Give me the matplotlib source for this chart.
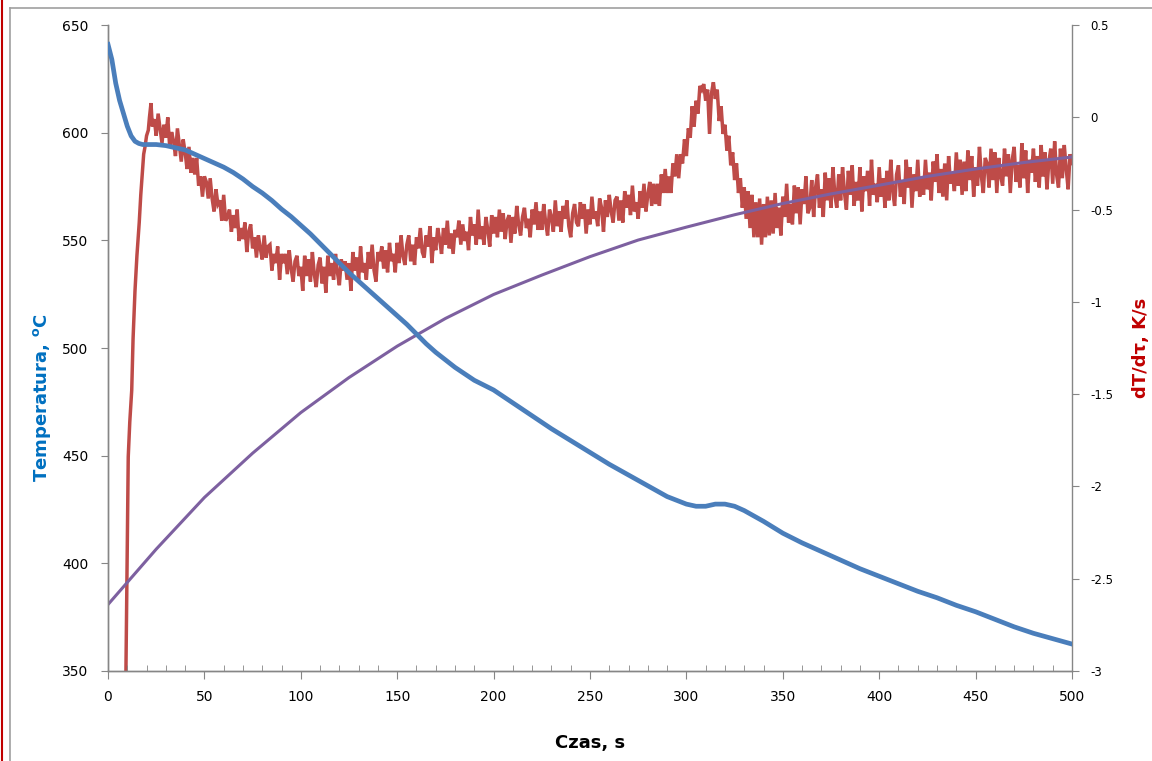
import numpy as np
import matplotlib
matplotlib.use('Agg')
import matplotlib.pyplot as plt
from matplotlib.lines import Line2D
from matplotlib.ticker import MultipleLocator, FuncFormatter

plt.rcParams['axes.unicode_minus'] = False
plt.rcParams['font.family'] = ['DejaVu Sans']

# Temperatura (lewa os), odczyt z wykresu
temp_t = [0, 2, 4, 6, 8, 10, 12, 14, 16, 18, 20, 25, 30, 35, 40, 45, 50, 55, 60, 65,
          70, 75, 80, 85, 90, 95, 100, 105, 110, 115, 120, 125, 130, 135, 140, 145,
          150, 155, 160, 165, 170, 180, 190, 200, 210, 220, 230, 240, 250, 260, 270,
          280, 290, 300, 305, 310, 315, 320, 325, 330, 335, 340, 350, 360, 370, 380,
          390, 400, 410, 420, 430, 440, 450, 460, 470, 480, 490, 500]
temp_v = [641, 634, 623, 615, 609, 603, 598.5, 596, 595, 594.5, 594.5, 594.5, 594,
          593, 592, 590, 588, 586, 584, 581.5, 578.5, 575, 572, 568.5, 564.5, 561,
          557, 553, 548.5, 544, 539.5, 535, 531, 527, 523, 519, 515, 511, 506.5, 502,
          498, 491, 485, 480.5, 474.5, 468.5, 462.5, 457, 451.5, 446, 441, 436, 431,
          427.5, 426.5, 426.5, 427.5, 427.5, 426.5, 424.5, 422, 419.5, 414, 409.5,
          405.5, 401.5, 397.5, 394, 390.5, 387, 384, 380.5, 377.5, 374, 370.5, 367.5,
          365, 362.5]

# linia bazowa (prawa os)
base_t = [0, 25, 50, 75, 100, 125, 150, 175, 200, 225, 250, 275, 300, 325, 350,
          375, 400, 425, 450, 475, 500]
base_v = [-2.64, -2.34, -2.06, -1.82, -1.60, -1.41, -1.24, -1.09, -0.96, -0.855,
          -0.755, -0.665, -0.595, -0.528, -0.467, -0.415, -0.368, -0.32, -0.28,
          -0.245, -0.215]

# dT/dtau - narastanie na poczatku
rise_t = [8.5, 9.3, 10.0, 10.5, 11.3, 12.3, 13.0, 14.0, 15.0, 16.2, 17.0, 17.8,
          18.5, 19.2, 20.0, 20.9, 21.5, 22.3, 23.0]
rise_v = [-3.3, -3.0, -2.3, -1.84, -1.65, -1.48, -1.2, -0.94, -0.75, -0.57, -0.42,
          -0.30, -0.2, -0.16, -0.1, -0.07, 0.0, 0.077, -0.05]

# dT/dtau od 24 s co 1 s (wiersz = 20 s)
rate_v = [
    -0.01, -0.10, 0.02, -0.06, -0.14, -0.04, -0.11, 0.00, -0.16, -0.08,
    -0.13, -0.21, -0.06, -0.15, -0.24, -0.12, -0.19, -0.28, -0.16, -0.30,
    -0.22, -0.31, -0.22, -0.37, -0.32, -0.43, -0.32, -0.35, -0.44, -0.33,
    -0.44, -0.51, -0.39, -0.47, -0.45, -0.56, -0.42, -0.56, -0.54, -0.50,
    -0.62, -0.53, -0.60, -0.50, -0.67, -0.60, -0.66, -0.57, -0.73, -0.62,
    -0.58, -0.71, -0.65, -0.76, -0.64, -0.71, -0.77, -0.64, -0.76, -0.70,
    -0.69, -0.83, -0.74, -0.79, -0.70, -0.88, -0.74, -0.79, -0.74, -0.85,
    -0.72, -0.82, -0.89, -0.78, -0.75, -0.86, -0.81, -0.94, -0.75, -0.86,
    -0.77, -0.89, -0.73, -0.85, -0.92, -0.80, -0.76, -0.90, -0.81, -0.95,
    -0.75, -0.86, -0.79, -0.88, -0.74, -0.84, -0.91, -0.77, -0.83, -0.78,
    -0.88, -0.79, -0.94, -0.73, -0.83, -0.76, -0.88, -0.70, -0.84, -0.79,
    -0.88, -0.73, -0.82, -0.69, -0.83, -0.89, -0.73, -0.78, -0.70, -0.82,
    -0.72, -0.84, -0.68, -0.78, -0.74, -0.84, -0.68, -0.79, -0.64, -0.75,
    -0.80, -0.69, -0.64, -0.78, -0.69, -0.80, -0.65, -0.71, -0.60, -0.73,
    -0.76, -0.64, -0.70, -0.59, -0.79, -0.65, -0.72, -0.60, -0.66, -0.74,
    -0.60, -0.69, -0.56, -0.71, -0.63, -0.74, -0.61, -0.65, -0.56, -0.69,
    -0.58, -0.67, -0.62, -0.72, -0.54, -0.64, -0.58, -0.69, -0.50, -0.66,
    -0.59, -0.69, -0.54, -0.61, -0.70, -0.53, -0.63, -0.54, -0.65, -0.50,
    -0.62, -0.52, -0.66, -0.56, -0.53, -0.68, -0.54, -0.63, -0.48, -0.58,
    -0.64, -0.54, -0.49, -0.60, -0.55, -0.65, -0.50, -0.58, -0.46, -0.61,
    -0.51, -0.61, -0.47, -0.57, -0.64, -0.50, -0.54, -0.62, -0.45, -0.59,
    -0.51, -0.62, -0.48, -0.55, -0.45, -0.59, -0.65, -0.52, -0.47, -0.57,
    -0.59, -0.46, -0.55, -0.47, -0.63, -0.50, -0.58, -0.43, -0.55, -0.51,
    -0.59, -0.44, -0.49, -0.62, -0.45, -0.54, -0.42, -0.51, -0.57, -0.45,
    -0.43, -0.56, -0.45, -0.57, -0.40, -0.49, -0.42, -0.53, -0.37, -0.51,
    -0.46, -0.55, -0.40, -0.49, -0.36, -0.51, -0.42, -0.35, -0.48, -0.36,
    -0.47, -0.36, -0.48, -0.31, -0.41, -0.28, -0.41, -0.32, -0.41, -0.25,
    -0.32, -0.20, -0.33, -0.20, -0.25, -0.12, -0.21, -0.06, -0.11, 0.06,
    -0.05, 0.09, 0.02, 0.17, 0.15, 0.18, 0.09, 0.15, -0.09, 0.13,
    0.19, 0.10, 0.15, -0.02, 0.06, -0.09, -0.04, -0.18, -0.10, -0.26,
    -0.19, -0.34, -0.25, -0.41, -0.33, -0.49, -0.38, -0.55, -0.40, -0.60,
    -0.42, -0.65, -0.46, -0.65, -0.44, -0.69, -0.47, -0.65, -0.43, -0.64,
    -0.45, -0.63, -0.41, -0.60, -0.49, -0.64, -0.43, -0.54, -0.36, -0.57,
    -0.47, -0.58, -0.37, -0.52, -0.38, -0.58, -0.39, -0.47, -0.32, -0.52,
    -0.49, -0.34, -0.54, -0.38, -0.31, -0.49, -0.39, -0.54, -0.30, -0.45,
    -0.33, -0.49, -0.27, -0.42, -0.49, -0.31, -0.45, -0.27, -0.41, -0.50,
    -0.29, -0.42, -0.26, -0.48, -0.35, -0.45, -0.27, -0.51, -0.32, -0.40,
    -0.29, -0.48, -0.23, -0.42, -0.36, -0.46, -0.27, -0.43, -0.33, -0.49,
    -0.29, -0.45, -0.23, -0.40, -0.48, -0.31, -0.26, -0.43, -0.34, -0.47,
    -0.23, -0.38, -0.27, -0.49, -0.31, -0.40, -0.23, -0.43, -0.33, -0.42,
    -0.23, -0.39, -0.30, -0.45, -0.24, -0.35, -0.20, -0.41, -0.28, -0.43,
    -0.25, -0.45, -0.21, -0.36, -0.30, -0.40, -0.19, -0.37, -0.23, -0.42,
    -0.24, -0.40, -0.18, -0.34, -0.21, -0.43, -0.27, -0.37, -0.16, -0.32,
    -0.41, -0.22, -0.25, -0.38, -0.17, -0.34, -0.19, -0.41, -0.22, -0.32,
    -0.37, -0.17, -0.32, -0.20, -0.41, -0.23, -0.16, -0.35, -0.26, -0.38,
    -0.14, -0.33, -0.18, -0.41, -0.23, -0.30, -0.17, -0.35, -0.21, -0.38,
    -0.15, -0.32, -0.19, -0.39, -0.24, -0.17, -0.36, -0.13, -0.31, -0.38,
    -0.17, -0.33, -0.15, -0.28, -0.39, -0.20, -0.25,
]
rate_t = np.arange(24, 24 + len(rate_v))

BLUE = '#4A7EBB'
RED = '#BE4B48'
PURPLE = '#7D60A0'
AXC = '#868686'

fig = plt.figure(figsize=(11.52, 7.61), dpi=100)
ax = fig.add_axes([0.09375, 0.1183, 0.8368, 0.8488])
ax2 = ax.twinx()

ax.plot(temp_t, temp_v, color=BLUE, lw=3.4, solid_joinstyle='round', zorder=3)
ax2.plot(base_t, base_v, color=PURPLE, lw=2.2, zorder=2)
ax2.plot(list(rise_t) + list(rate_t), list(rise_v) + list(rate_v),
         color=RED, lw=2.5, solid_joinstyle='miter', zorder=1)
ax.set_zorder(ax2.get_zorder() + 1)
ax.patch.set_visible(False)

ax.set_xlim(0, 500)
ax.set_ylim(350, 650)
ax2.set_ylim(-3, 0.5)

ax.xaxis.set_major_locator(MultipleLocator(50))
ax.xaxis.set_minor_locator(MultipleLocator(10))
ax.yaxis.set_major_locator(MultipleLocator(50))
ax2.yaxis.set_major_locator(MultipleLocator(0.5))
ax2.yaxis.set_major_formatter(FuncFormatter(lambda v, p: '%g' % v))

for a in (ax, ax2):
    for s in a.spines.values():
        s.set_color(AXC)
        s.set_linewidth(1.0)
    a.spines['top'].set_visible(False)
ax.spines['right'].set_visible(False)

ax.tick_params(axis='x', which='major', direction='out', length=6, color=AXC,
               labelsize=10, pad=8)
ax.tick_params(axis='x', which='minor', direction='in', length=4, color=AXC)
ax.tick_params(axis='y', direction='out', length=5, color=AXC, labelsize=10,
               pad=9)
ax2.tick_params(axis='y', direction='out', length=5, color=AXC, labelsize=8.5,
                pad=8)

ax.set_xlabel('Czas, s', fontsize=13, fontweight='bold', labelpad=21)
ax.set_ylabel('Temperatura, $^{\\mathregular{o}}$C', fontsize=13,
              fontweight='bold', color='#0070C0')
ax.yaxis.set_label_coords(-0.057, 0.4226)
ax2.set_ylabel('dT/d\u03c4, K/s', fontsize=13, fontweight='bold', color='#C00000',
               labelpad=14)

# ramka wykresu i czerwona linia przy lewej krawedzi
fig.add_artist(Line2D([10 / 1152, 10 / 1152], [0, 1 - 8 / 761], color='#A0A0A0',
                      lw=1.2, transform=fig.transFigure))
fig.add_artist(Line2D([10 / 1152, 1], [1 - 8 / 761, 1 - 8 / 761], color='#A0A0A0',
                      lw=1.2, transform=fig.transFigure))
fig.add_artist(Line2D([2 / 1152, 2 / 1152], [0, 1], color='#C00000', lw=1.5,
                      transform=fig.transFigure))

fig.savefig('out.png', dpi=100)
